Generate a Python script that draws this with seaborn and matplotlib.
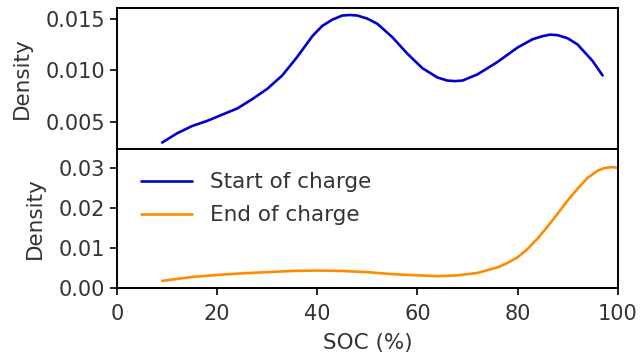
import matplotlib
matplotlib.use("Agg")
import matplotlib.pyplot as plt
import seaborn as sns
import pandas as pd

# Kernel density of state of charge at the start of each charging session
soc_start = [9, 12, 15, 18, 20, 24, 27, 30, 33, 36, 39, 41, 43, 45, 46.5, 48,
             50, 52, 55, 58, 61, 64, 66, 67.5, 69, 72, 76, 80, 83, 85, 86.5,
             88, 90, 92, 95, 97]
density_start = [0.0030, 0.0039, 0.0046, 0.0051, 0.0055, 0.0063, 0.0072,
                 0.0082, 0.0095, 0.0113, 0.0133, 0.0143, 0.0149, 0.0153,
                 0.01535, 0.0153, 0.0150, 0.0145, 0.0132, 0.0116, 0.0102,
                 0.0093, 0.0090, 0.00895, 0.0090, 0.0096, 0.0108, 0.0122,
                 0.0130, 0.0133, 0.01345, 0.0134, 0.0131, 0.0125, 0.0109,
                 0.0095]

# Kernel density of state of charge at the end of each charging session
soc_end = [9, 12, 15, 20, 25, 30, 35, 40, 45, 50, 55, 60, 64, 68, 72, 76,
           78, 80, 82, 84, 86, 88, 90, 92, 94, 96, 97, 98, 99, 100]
density_end = [0.0017, 0.0022, 0.0027, 0.0032, 0.0036, 0.0039, 0.0042,
               0.0043, 0.0042, 0.0039, 0.0034, 0.0031, 0.0029, 0.0031,
               0.0037, 0.0051, 0.0062, 0.0076, 0.0097, 0.0123, 0.0153,
               0.0185, 0.0218, 0.0248, 0.0275, 0.0293, 0.0298, 0.0301,
               0.0302, 0.0300]

labels = ["Start of charge", "End of charge"]
colors = ["mediumblue", "darkorange"]
x_ticks = [0, 20, 40, 60, 80, 100]

df_start = pd.DataFrame({"SOC": soc_start, "Density": density_start})
df_end = pd.DataFrame({"SOC": soc_end, "Density": density_end})

sns.set_theme(style="ticks")
plt.rcParams["font.family"] = ["DejaVu Sans"]
plt.rcParams["axes.edgecolor"] = "black"
plt.rcParams["axes.linewidth"] = 1.4

text_color = "#333333"
fs_tick = 15
fs_label = 15.5

fig = plt.figure(figsize=(6.4, 3.61), dpi=100)
ax_top = fig.add_axes([0.183, 0.588, 0.782, 0.389])
ax_bot = fig.add_axes([0.183, 0.203, 0.782, 0.385], sharex=ax_top)

sns.lineplot(data=df_start, x="SOC", y="Density", ax=ax_top,
             color=colors[0], linewidth=1.9, label=labels[0], legend=False)
sns.lineplot(data=df_end, x="SOC", y="Density", ax=ax_bot,
             color=colors[1], linewidth=1.9, label=labels[1], legend=False)
# blue proxy so both series appear in the lower legend
ax_bot.plot([], [], color=colors[0], linewidth=1.9, label=labels[0])

ax_top.set_xlim(0, 100)
ax_top.set_ylim(0.0024, 0.0160)
ax_top.set_yticks([0.005, 0.010, 0.015])
ax_top.set_yticklabels(["0.005", "0.010", "0.015"])
ax_bot.set_ylim(0, 0.0348)
ax_bot.set_yticks([0.00, 0.01, 0.02, 0.03])
ax_bot.set_yticklabels(["0.00", "0.01", "0.02", "0.03"])
ax_bot.set_xticks(x_ticks)

for ax in (ax_top, ax_bot):
    ax.tick_params(direction="out", length=5, width=1.2,
                   colors="black", labelsize=fs_tick, labelcolor=text_color)
    ax.tick_params(axis="y", pad=3.5)
    ax.tick_params(axis="x", pad=7)
    ax.set_ylabel("Density", fontsize=fs_label, color=text_color, labelpad=10)
    for s in ax.spines.values():
        s.set_visible(True)
        s.set_color("black")

ax_top.tick_params(labelbottom=False)
ax_top.set_xlabel("")
ax_bot.set_xlabel("SOC (%)", fontsize=fs_label, color=text_color, labelpad=6)

handles, lbls = ax_bot.get_legend_handles_labels()
order = [lbls.index(l) for l in labels]
ax_bot.legend([handles[i] for i in order], [lbls[i] for i in order],
              loc="upper left", frameon=False, fontsize=fs_label,
              handlelength=2.4, borderaxespad=0.7, labelspacing=0.6,
              labelcolor=text_color)

fig.savefig("out.png", dpi=100)
